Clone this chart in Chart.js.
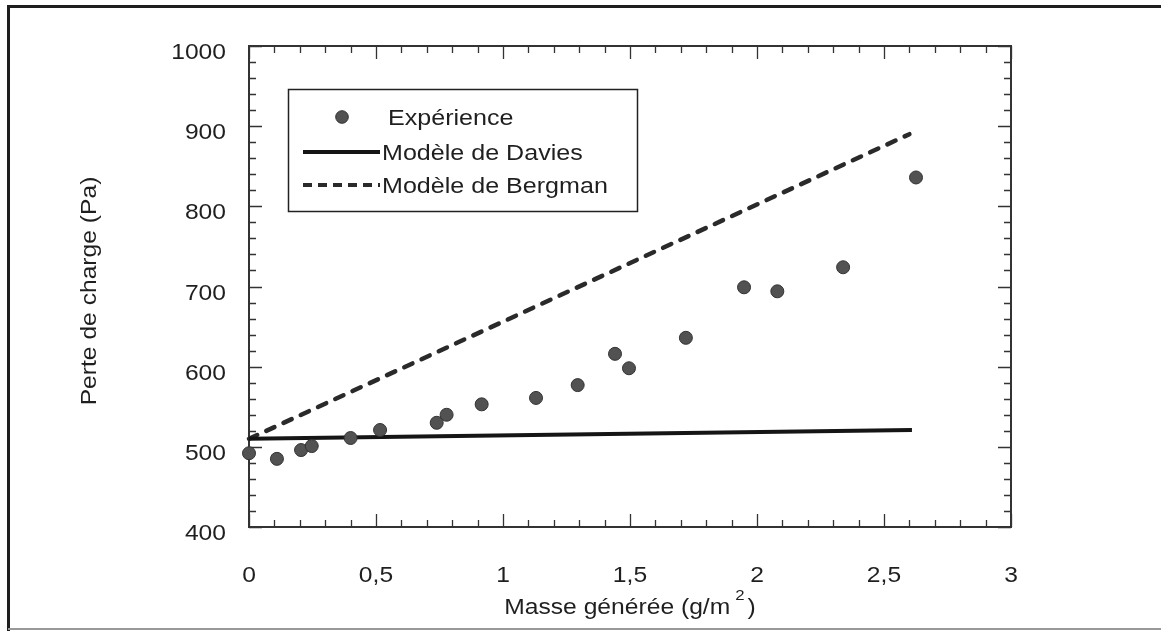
<!DOCTYPE html>
<html>
<head>
<meta charset="utf-8">
<script src="https://cdn.jsdelivr.net/npm/chart.js@4"></script>
<style>
html,body{margin:0;padding:0;background:#fff;}
#wrap{width:1161px;height:631px;position:relative;}
</style>
</head>
<body>
<div id="wrap"><canvas id="c" width="1161" height="631"></canvas></div>
<script>
// ---- data ----
const expX = [0, 0.11, 0.205, 0.247, 0.40, 0.516, 0.739, 0.778, 0.916, 1.13, 1.294, 1.441, 1.496, 1.72, 1.949, 2.08, 2.339, 2.626];
const expY = [492, 485, 496, 501, 511, 521, 530, 540, 553, 561, 577, 616, 598, 636, 699, 694, 724, 836];
const daviesX = [0, 2.61];
const daviesY = [510, 521];
const bergmanX = [0, 2.6];
const bergmanY = [510, 890];
const seriesNames = ['Expérience', 'Modèle de Davies', 'Modèle de Bergman'];
const xTickValues = [0, 0.5, 1, 1.5, 2, 2.5, 3];
const xTickLabels = ['0', '0,5', '1', '1,5', '2', '2,5', '3'];
const yTickValues = [400, 500, 600, 700, 800, 900, 1000];
const yTickLabels = ['400', '500', '600', '700', '800', '900', '1000'];
const xTitleMain = 'Masse générée (g/m';
const xTitleSup = '2';
const xTitleEnd = ')';
const yTitle = 'Perte de charge (Pa)';

const pts = (xs, ys) => xs.map((x, i) => ({x: x, y: ys[i]}));
const FONT = '"Liberation Sans", Arial, sans-serif';
const INK = '#1f1f1f';

function sText(ctx, text, x, y, align, stretch, font) {
  ctx.save();
  ctx.font = font;
  ctx.translate(x, y);
  ctx.scale(stretch, 1);
  ctx.textAlign = align;
  ctx.textBaseline = 'alphabetic';
  ctx.fillStyle = INK;
  ctx.fillText(text, 0, 0);
  ctx.restore();
}

const decor = {
  id: 'decor',
  beforeDatasetsDraw(chart) {
    const ctx = chart.ctx;
    const a = chart.chartArea;
    const xs = chart.scales.x, ys = chart.scales.y;
    ctx.save();
    // outer page border
    ctx.strokeStyle = '#1e1e1e';
    ctx.lineWidth = 3;
    ctx.beginPath();
    ctx.moveTo(8.5, 631); ctx.lineTo(8.5, 6.5); ctx.lineTo(1161, 6.5);
    ctx.stroke();
    ctx.strokeStyle = '#999';
    ctx.lineWidth = 2;
    ctx.beginPath(); ctx.moveTo(8, 629); ctx.lineTo(1161, 629); ctx.stroke();

    // plot frame
    ctx.strokeStyle = '#333';
    ctx.lineWidth = 2;
    ctx.strokeRect(a.left, a.top, a.right - a.left, a.bottom - a.top);

    // ticks (inward, all four sides)
    ctx.lineWidth = 1.3;
    ctx.beginPath();
    for (let i = 0; i <= 30; i++) {
      const v = i / 10;
      const px = Math.round(xs.getPixelForValue(v)) + 0.5;
      const len = (i % 5 === 0) ? 13 : 7;
      ctx.moveTo(px, a.bottom); ctx.lineTo(px, a.bottom - len);
      ctx.moveTo(px, a.top); ctx.lineTo(px, a.top + len);
    }
    for (let i = 0; i <= 30; i++) {
      const v = 400 + i * 20;
      const py = Math.round(ys.getPixelForValue(v)) + 0.5;
      const len = (i % 5 === 0) ? 13 : 7;
      ctx.moveTo(a.left, py); ctx.lineTo(a.left + len, py);
      ctx.moveTo(a.right, py); ctx.lineTo(a.right - len, py);
    }
    ctx.stroke();
    ctx.restore();

    // tick labels
    const tf = '22px ' + FONT;
    xTickValues.forEach((v, i) => {
      sText(ctx, xTickLabels[i], xs.getPixelForValue(v), 582, 'center', 1.12, tf);
    });
    yTickValues.forEach((v, i) => {
      sText(ctx, yTickLabels[i], a.left - 23, ys.getPixelForValue(v) + 13, 'right', 1.12, tf);
    });

    // axis titles
    const st = 1.12;
    ctx.save();
    ctx.font = '22px ' + FONT;
    const wMain = ctx.measureText(xTitleMain).width * st;
    const wEnd = ctx.measureText(xTitleEnd).width * st;
    ctx.font = '15px ' + FONT;
    const wSup = ctx.measureText(xTitleSup).width * st;
    ctx.restore();
    const total = wMain + 5 + wSup + 3 + wEnd;
    let x0 = (a.left + a.right) / 2 - total / 2;
    sText(ctx, xTitleMain, x0, 614, 'left', st, '22px ' + FONT);
    sText(ctx, xTitleSup, x0 + wMain + 5, 600, 'left', st, '15px ' + FONT);
    sText(ctx, xTitleEnd, x0 + wMain + 5 + wSup + 3, 614, 'left', st, '22px ' + FONT);

    ctx.save();
    ctx.translate(96, 291);
    ctx.rotate(-Math.PI / 2);
    ctx.scale(1.12, 1);
    ctx.font = '22px ' + FONT;
    ctx.fillStyle = INK;
    ctx.textAlign = 'center';
    ctx.textBaseline = 'alphabetic';
    ctx.fillText(yTitle, 0, 0);
    ctx.restore();
  },
  afterDatasetsDraw(chart) {
    const ctx = chart.ctx;
    const ds = chart.data.datasets;
    ctx.save();
    // legend box
    ctx.fillStyle = '#fff';
    ctx.strokeStyle = '#222';
    ctx.lineWidth = 1.5;
    ctx.fillRect(288, 89, 349, 122);
    ctx.strokeRect(288.5, 89.5, 349, 122);
    // entry 1: marker
    ctx.beginPath();
    ctx.arc(342, 117, 6.3, 0, Math.PI * 2);
    ctx.fillStyle = ds[0].backgroundColor;
    ctx.fill();
    ctx.strokeStyle = ds[0].borderColor;
    ctx.lineWidth = 1;
    ctx.stroke();
    // entry 2: solid
    ctx.strokeStyle = ds[1].borderColor;
    ctx.lineWidth = 4;
    ctx.setLineDash([]);
    ctx.beginPath(); ctx.moveTo(303, 152); ctx.lineTo(380, 152); ctx.stroke();
    // entry 3: dashed
    ctx.strokeStyle = ds[2].borderColor;
    ctx.setLineDash([9, 6]);
    ctx.beginPath(); ctx.moveTo(303, 185); ctx.lineTo(380, 185); ctx.stroke();
    ctx.restore();
    const lf = '22px ' + FONT;
    sText(ctx, seriesNames[0], 388, 125, 'left', 1.14, lf);
    sText(ctx, seriesNames[1], 382, 160, 'left', 1.14, lf);
    sText(ctx, seriesNames[2], 382, 193, 'left', 1.14, lf);
  }
};

new Chart(document.getElementById('c'), {
  type: 'scatter',
  data: {
    datasets: [
      {
        label: seriesNames[0],
        data: pts(expX, expY),
        showLine: false,
        clip: false,
        pointRadius: 6.5,
        pointHoverRadius: 6.5,
        backgroundColor: '#525252',
        borderColor: '#333333',
        borderWidth: 1
      },
      {
        label: seriesNames[1],
        data: pts(daviesX, daviesY),
        showLine: true,
        clip: false,
        pointRadius: 0,
        borderColor: '#151515',
        borderWidth: 4,
        fill: false
      },
      {
        label: seriesNames[2],
        data: pts(bergmanX, bergmanY),
        showLine: true,
        clip: false,
        pointRadius: 0,
        borderColor: '#2a2a2a',
        borderWidth: 4.5,
        borderDash: [9, 10],
        borderCapStyle: 'round',
        fill: false
      }
    ]
  },
  options: {
    responsive: false,
    animation: false,
    devicePixelRatio: 1,
    layout: { padding: { left: 249, right: 150, top: 46, bottom: 104 } },
    plugins: { legend: { display: false }, tooltip: { enabled: false } },
    events: [],
    scales: {
      x: { type: 'linear', min: 0, max: 3, display: false },
      y: { type: 'linear', min: 400, max: 1000, display: false }
    }
  },
  plugins: [decor]
});
</script>
</body>
</html>
